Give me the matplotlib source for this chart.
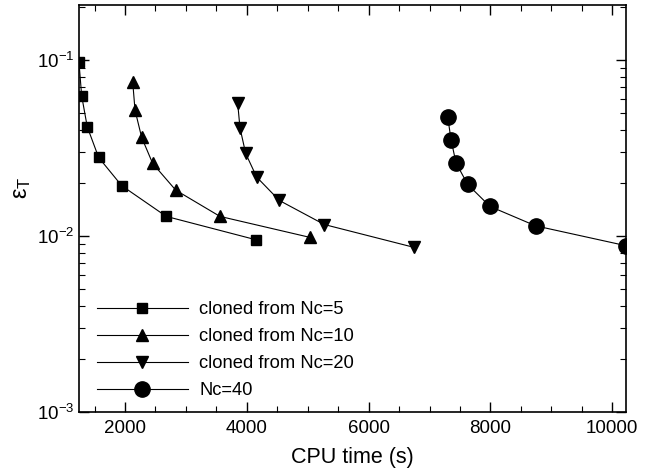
import matplotlib
matplotlib.use('Agg')
import matplotlib.pyplot as plt
from matplotlib.ticker import MultipleLocator, LogLocator, NullFormatter

plt.rcParams['font.family'] = ['Liberation Sans', 'DejaVu Sans']
plt.rcParams['mathtext.fontset'] = 'custom'
plt.rcParams['mathtext.rm'] = 'Liberation Sans'
plt.rcParams['mathtext.it'] = 'Liberation Sans:italic'
plt.rcParams.update({'font.size': 13})

# cloned from Nc=5
t_nc5 = [1245, 1289, 1381, 1568, 1946, 2678, 4151]
e_nc5 = [0.097, 0.0626, 0.0417, 0.0279, 0.0193, 0.0129, 0.0095]
# cloned from Nc=10
t_nc10 = [2127, 2165, 2274, 2455, 2833, 3560, 5038]
e_nc10 = [0.0752, 0.0519, 0.0363, 0.0258, 0.0182, 0.0129, 0.0098]
# cloned from Nc=20
t_nc20 = [3851, 3888, 3982, 4162, 4534, 5273, 6746]
e_nc20 = [0.0567, 0.0412, 0.0294, 0.0216, 0.0159, 0.0116, 0.0086]
# Nc=40
t_nc40 = [7299, 7353, 7435, 7627, 7993, 8743, 10220]
e_nc40 = [0.0475, 0.0353, 0.026, 0.0196, 0.0147, 0.0114, 0.0088]

labels = ['cloned from Nc=5', 'cloned from Nc=10', 'cloned from Nc=20', 'Nc=40']

fig = plt.figure(figsize=(6.5, 4.7), dpi=100)
ax = fig.add_axes([0.1215, 0.124, 0.841, 0.865])

ax.plot(t_nc5, e_nc5, 'k-', marker='s', markersize=7, linewidth=0.8, label=labels[0])
ax.plot(t_nc10, e_nc10, 'k-', marker='^', markersize=8, linewidth=0.8, label=labels[1])
ax.plot(t_nc20, e_nc20, 'k-', marker='v', markersize=8, linewidth=0.8, label=labels[2])
ax.plot(t_nc40, e_nc40, 'k-', marker='o', markersize=11, linewidth=0.8, label=labels[3])

ax.set_yscale('log')
ax.set_xlim(min(t_nc5), max(t_nc40))
ax.set_ylim(1e-3, 0.205)
ax.xaxis.set_major_locator(MultipleLocator(2000))
ax.xaxis.set_minor_locator(MultipleLocator(500))
ax.yaxis.set_minor_locator(LogLocator(base=10, subs=range(2, 10)))
ax.yaxis.set_minor_formatter(NullFormatter())
ax.tick_params(which='both', direction='in', top=True, right=True, labelsize=13.5)
ax.tick_params(axis='x', which='major', pad=6)
ax.tick_params(which='major', length=7, width=1)
ax.tick_params(which='minor', length=4, width=0.8)
for s in ax.spines.values():
    s.set_linewidth(1.2)

ax.set_xlabel('CPU time (s)', fontsize=15.5, labelpad=7)
ax.set_ylabel('ε$_{\\mathregular{T}}$', fontsize=17)
ax.yaxis.set_label_coords(-0.085, 0.55)

ax.legend(loc='lower left', frameon=False, fontsize=13.2, handlelength=5.0,
          handletextpad=0.6, labelspacing=0.55, bbox_to_anchor=(0.002, -0.01))

fig.savefig('out.png', dpi=100)
